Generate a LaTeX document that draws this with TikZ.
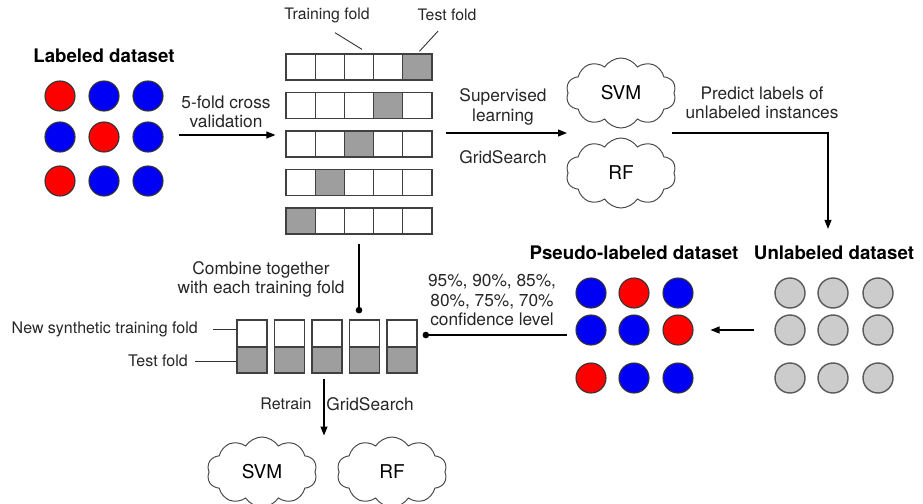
\documentclass[tikz,border=0pt]{standalone}
\usepackage{fontspec}
\setmainfont{TeX Gyre Heros}
\usetikzlibrary{shapes.symbols,arrows.meta,calc}
\definecolor{myred}{HTML}{FF0000}
\definecolor{myblue}{HTML}{0000F5}
\definecolor{cellgray}{HTML}{9E9E9E}
\definecolor{ugray}{HTML}{CCCCCC}
\definecolor{edge}{HTML}{333333}
\tikzset{
 dotnode/.style={circle, minimum size=30pt, inner sep=0pt, draw=edge, line width=1.1pt},
 redd/.style={dotnode, fill=myred},
 blued/.style={dotnode, fill=myblue},
 grayd/.style={dotnode, fill=ugray, draw=black!65, line width=1.4pt},
 cell/.style={rectangle, draw=black!75, line width=1.2pt, minimum width=29.2pt, minimum height=26pt, inner sep=0pt, fill=white},
 gcell/.style={cell, fill=cellgray},
 bcell/.style={rectangle, draw=black!75, line width=1.2pt, minimum width=30pt, inner sep=0pt},
 lab/.style={font=\fontsize{17.3}{19.5}\selectfont, align=center, inner sep=0pt, text=black!85},
 smalllab/.style={font=\fontsize{16}{19}\selectfont, inner sep=0pt, text=black!85},
 toplab/.style={font=\fontsize{15.8}{18}\selectfont, inner sep=0pt, text=black!85},
 titlelab/.style={font=\fontsize{18.7}{22}\selectfont\bfseries, inner sep=0pt},
 mycloud/.style={cloud, cloud puffs=10, cloud puff arc=115, aspect=1.8, draw=black!70, line width=1pt, minimum width=110pt, minimum height=70pt, inner sep=0pt, font=\fontsize{19}{22}\selectfont},
 arr/.style={-{Triangle[length=9pt,width=7pt]}, line width=1.1pt},
 ln/.style={line width=1.1pt},
 thinln/.style={line width=0.9pt, black!80},
}
\begin{document}
\begin{tikzpicture}[x=1pt,y=-1pt]
\useasboundingbox (0,0) rectangle (923,503);

% Labeled dataset
\node[titlelab] (lt) at (104,56) {Labeled dataset};
\node[redd]  (l11) at (60,96) {};
\node[blued] (l12) at (104,96) {};
\node[blued] (l13) at (148,96) {};
\node[blued] (l21) at (60,137) {};
\node[redd]  (l22) at (104,137) {};
\node[blued] (l23) at (148,137) {};
\node[redd]  (l31) at (60,181) {};
\node[blued] (l32) at (104,181) {};
\node[blued] (l33) at (148,181) {};

% Fold grid
\foreach \i/\y/\g in {1/67/5,2/105.5/4,3/144/3,4/182.5/2,5/221/1}{
  \foreach \j in {1,...,5}{
    \ifnum\j=\g
      \node[gcell] (r\i c\j) at ({286+29.2*(\j-0.5)},\y) {};
    \else
      \node[cell] (r\i c\j) at ({286+29.2*(\j-0.5)},\y) {};
    \fi
  }
}
\node[toplab] (trl) at (327,15) {Training fold};
\node[toplab] (tfl) at (447,15) {Test fold};
\draw[thinln] ($(trl.south)+(8,10)$) -- ($(r1c3.north)+(3,-4)$);
\draw[thinln] ($(tfl.south)+(-9,10)$) -- ($(r1c5.north)+(2,-2)$);

\node[lab] (cv) at (226,112) {5-fold cross\\validation};
\draw[arr] ($(l23.east)+(15,-2)$) -- ($(l23.east -| r3c1.west)+(-10,-2)$);

% Top clouds
\node[mycloud] (svm1) at (621,93) {SVM};
\node[mycloud] (rf1) at (621,173) {RF};
\coordinate (m1) at ($(svm1)!0.5!(rf1)$);
\node[lab] (sl) at (503,107) {Supervised\\learning};
\node[lab] (gs1) at (503,157) {GridSearch};
\draw[arr] ($(m1 -| r3c5.east)+(13,0)$) -- ($(m1)+(-54,0)$);

\node[lab] (pl) at (762,103) {Predict labels of\\unlabeled instances};

% Pseudo and unlabeled
\node[titlelab] (pt) at (634,253) {Pseudo-labeled dataset};
\node[titlelab] (ut) at (834,253) {Unlabeled dataset};
\draw[arr] ($(m1)+(51,0)$) -| ($(ut.north)+(-6,-17)$);

\node[blued] (p11) at (591,293) {};
\node[redd]  (p12) at (634,293) {};
\node[blued] (p13) at (678,293) {};
\node[blued] (p21) at (591,330) {};
\node[blued] (p22) at (634,330) {};
\node[redd]  (p23) at (678,330) {};
\node[redd]  (p31) at (591,378) {};
\node[blued] (p32) at (634,378) {};
\node[blued] (p33) at (678,378) {};

\foreach \i/\y in {1/293,2/330,3/378}{
  \foreach \j/\x in {1/790,2/833,3/878}{
    \node[grayd] (u\i\j) at (\x,\y) {};
  }
}
\draw[arr] ($(u21.west)+(-20,0)$) -- ($(p23.east)+(17,0)$);

% Bottom boxes
\foreach \k/\x in {1/252,2/289.5,3/327,4/364.5,5/402}{
  \node[bcell, minimum height=27pt, fill=white] (b\k t) at (\x,333.5) {};
  \node[bcell, minimum height=26pt, fill=cellgray] (b\k b) at (\x,360) {};
}
\node[lab] (comb) at (261,279.5) {Combine together\\with each training fold};
\draw[ln, -{Circle[length=6.5pt]}] ($(r5c3.south)+(0,9)$) -- ($(r5c3.south |- b4t.north)+(0,-6)$);

\node[lab] (conf) at (492,300) {95\%, 90\%, 85\%,\\80\%, 75\%, 70\%\\confidence level};
\draw[ln, {Circle[length=6.5pt]}-] ($(b5t.east)+(5,1.5)$) -- ($(b5t.east -| p21.west)+(-8,1.5)$);

\node[smalllab, anchor=east] (nst) at (198,329) {New synthetic training fold};
\node[smalllab, anchor=east] (tfb) at (188,361) {Test fold};
\draw[thinln] ($(nst.east)+(15,0)$) -- (b1t.west |- nst.east);
\draw[thinln] ($(tfb.east)+(7,0)$) -- (b1b.west |- tfb.east);

% Bottom clouds
\node[mycloud] (svm2) at (262,472) {SVM};
\node[mycloud] (rf2) at (392,472) {RF};
\draw[arr] ($(b3b.south)+(-3,5)$) -- ($(b3b.south |- svm2.north)+(-3,-1)$);
\node[smalllab] (rt) at (286,404) {Retrain};
\node[lab] (gs2) at (370,404) {GridSearch};
\end{tikzpicture}
\end{document}
